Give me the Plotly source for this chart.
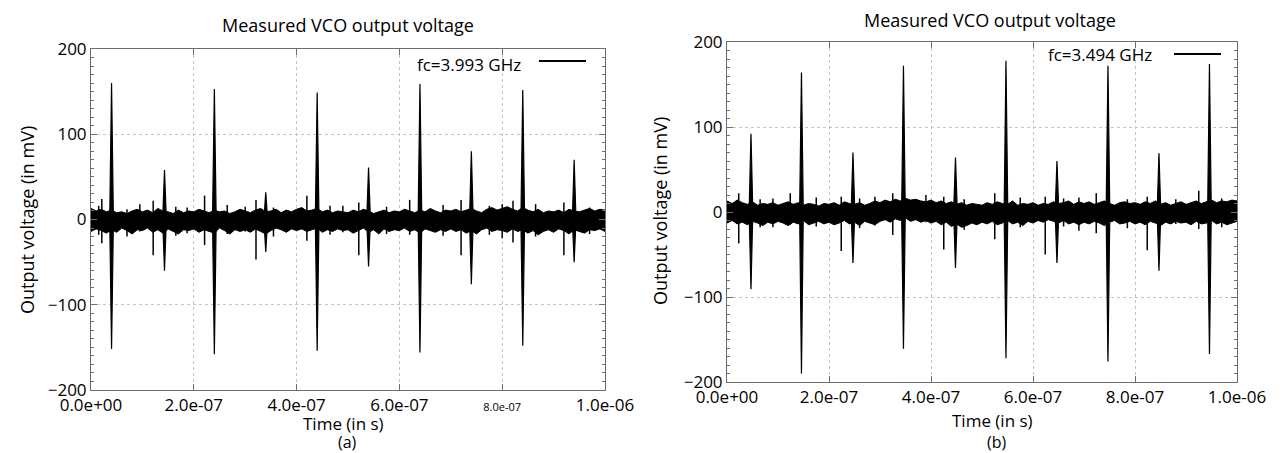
import plotly.graph_objects as go

# ---- data (time in s, voltage in mV) ----
title_txt = "Measured VCO output voltage"
ytitle = "Output voltage (in mV)"
xtitle = "Time (in s)"
labels = ["fc=3.993 GHz", "fc=3.494 GHz"]
subcaps = ["(a)", "(b)"]

xtick_vals = [0, 2e-7, 4e-7, 6e-7, 8e-7, 1e-6]
xtick_text = ["0.0e+00", "2.0e-07", "4.0e-07", "6.0e-07", "8.0e-07", "1.0e-06"]
ytick_vals = [-200, -100, 0, 100, 200]

# noise band, sampled every 1e-8 s (upper / lower edge)
noise_step = 1e-8
a_upper = [13, 10, 12, 9, 11, 8, 9, 7, 10, 12,
           9, 11, 8, 13, 10, 9, 7, 11, 8, 10,
           9, 12, 10, 8, 11, 9, 10, 7, 9, 12,
           10, 8, 11, 13, 9, 10, 12, 8, 11, 9,
           12, 14, 10, 11, 13, 9, 11, 8, 10, 9,
           8, 11, 9, 12, 10, 7, 9, 11, 8, 10,
           9, 12, 10, 8, 11, 9, 13, 10, 8, 11,
           10, 12, 9, 11, 13, 10, 8, 12, 14, 11,
           13, 15, 12, 10, 14, 11, 9, 12, 8, 10,
           9, 11, 8, 12, 10, 9, 11, 13, 10, 12, 11]
a_lower = [-14, -11, -13, -16, -12, -15, -10, -13, -17, -12,
           -13, -10, -15, -12, -16, -11, -14, -17, -12, -13,
           -11, -15, -12, -14, -16, -10, -13, -17, -12, -14,
           -12, -15, -11, -14, -17, -13, -10, -12, -15, -11,
           -13, -11, -14, -12, -10, -15, -12, -14, -11, -13,
           -12, -16, -13, -10, -15, -12, -17, -11, -14, -12,
           -13, -10, -14, -12, -16, -11, -13, -15, -12, -14,
           -11, -14, -12, -16, -13, -17, -12, -10, -14, -12,
           -13, -15, -11, -14, -12, -16, -13, -18, -14, -12,
           -15, -11, -13, -17, -12, -14, -16, -12, -13, -11, -14]
b_upper = [13, 10, 14, 11, 9, 12, 8, 10, 9, 11,
           8, 10, 12, 9, 11, 8, 10, 9, 7, 10,
           9, 11, 8, 12, 10, 9, 11, 8, 10, 13,
           11, 14, 12, 15, 13, 16, 14, 15, 13, 12,
           14, 11, 13, 10, 12, 9, 11, 8, 10, 9,
           8, 11, 9, 12, 10, 9, 13, 8, 10, 9,
           11, 8, 10, 9, 12, 10, 11, 13, 9, 12,
           10, 12, 9, 11, 13, 10, 8, 11, 12, 10,
           11, 9, 12, 10, 13, 9, 11, 8, 10, 12,
           9, 11, 13, 10, 12, 14, 11, 13, 12, 14, 13]
b_lower = [-13, -10, -14, -12, -15, -11, -13, -16, -12, -14,
           -11, -13, -16, -12, -14, -10, -15, -13, -11, -14,
           -12, -15, -13, -10, -14, -12, -16, -11, -13, -15,
           -11, -9, -12, -8, -10, -7, -11, -9, -12, -10,
           -13, -11, -15, -12, -17, -14, -18, -16, -13, -15,
           -12, -14, -11, -15, -13, -10, -14, -12, -16, -11,
           -13, -10, -12, -9, -11, -13, -10, -14, -12, -15,
           -12, -14, -11, -13, -16, -12, -10, -14, -13, -11,
           -14, -12, -15, -11, -13, -16, -12, -14, -11, -13,
           -12, -15, -11, -14, -13, -10, -14, -12, -15, -13, -11]

# main pulses: time, peak, trough
a_pulse_t = [0.40e-7, 1.43e-7, 2.40e-7, 3.40e-7, 4.40e-7, 5.40e-7, 6.40e-7, 7.40e-7, 8.40e-7, 9.40e-7]
a_pulse_hi = [160, 58, 153, 32, 149, 61, 159, 80, 152, 70]
a_pulse_lo = [-152, -60, -158, -38, -154, -55, -156, -76, -148, -50]
b_pulse_t = [0.47e-7, 1.46e-7, 2.47e-7, 3.46e-7, 4.48e-7, 5.47e-7, 6.47e-7, 7.47e-7, 8.47e-7, 9.46e-7]
b_pulse_hi = [92, 164, 70, 172, 64, 178, 60, 172, 69, 174]
b_pulse_lo = [-91, -190, -60, -161, -66, -172, -60, -176, -69, -167]

# small glitches: time, max, min
a_glitch_t = [0.21e-7, 0.95e-7, 1.21e-7, 1.87e-7, 2.21e-7, 3.00e-7, 3.21e-7, 4.20e-7, 5.21e-7,
              6.20e-7, 7.20e-7, 8.21e-7, 9.20e-7, 0.70e-7, 4.90e-7, 8.00e-7,
              0.15e-7, 1.65e-7, 2.65e-7, 3.55e-7, 4.65e-7, 5.75e-7, 6.85e-7, 7.75e-7, 8.65e-7, 9.70e-7]
a_glitch_hi = [24, 18, 22, 14, 28, 15, 23, 28, 20, 23, 23, 22, 20, 12, 16, 18,
               16, 15, 17, 14, 16, 15, 17, 16, 18, 14]
a_glitch_lo = [-28, -14, -42, -16, -30, -14, -47, -25, -42, -18, -42, -27, -42, -20, -15, -22,
               -18, -19, -17, -20, -18, -17, -19, -18, -20, -17]
b_glitch_t = [0.23e-7, 1.24e-7, 2.24e-7, 3.25e-7, 4.25e-7, 5.25e-7, 6.24e-7, 7.24e-7, 8.24e-7,
              9.25e-7, 0.90e-7, 2.90e-7, 3.90e-7, 6.90e-7, 8.80e-7,
              0.65e-7, 1.75e-7, 2.60e-7, 4.65e-7, 5.75e-7, 6.60e-7, 7.85e-7, 9.70e-7]
b_glitch_hi = [22, 22, 18, 22, 18, 22, 18, 22, 18, 25, 16, 18, 20, 17, 15,
               15, 17, 16, 15, 17, 16, 15, 16]
b_glitch_lo = [-37, -15, -46, -27, -44, -32, -50, -25, -45, -20, -18, -16, -12, -22, -14,
               -18, -17, -19, -21, -18, -17, -19, -18]

# ---- layout geometry ----
W, H = 1284, 453
pulse_half = 3.6e-9
frame = "#6e6e6e"


def px2x(p):
    return p / W


def px2y(p):
    return 1 - p / H


def pulse_path(ts, his, los):
    xs, ys = [], []
    for t, hi, lo in zip(ts, his, los):
        xs += [t - pulse_half, t, t + pulse_half, t, t - pulse_half, None]
        ys += [0, hi, 0, lo, 0, None]
    return xs, ys


def glitch_path(ts, his, los):
    xs, ys = [], []
    for t, hi, lo in zip(ts, his, los):
        xs += [t, t, None]
        ys += [hi, lo, None]
    return xs, ys


fig = go.Figure()
panels = [
    ("x", "y", a_upper, a_lower, a_pulse_t, a_pulse_hi, a_pulse_lo, a_glitch_t, a_glitch_hi, a_glitch_lo),
    ("x2", "y2", b_upper, b_lower, b_pulse_t, b_pulse_hi, b_pulse_lo, b_glitch_t, b_glitch_hi, b_glitch_lo),
]
for xa, ya, up, lo, pt, ph, pl, gt, gh, gl in panels:
    tt = [i * noise_step for i in range(len(up))]
    fig.add_trace(go.Scatter(x=tt, y=up, mode="lines", line=dict(color="black", width=1),
                             xaxis=xa, yaxis=ya, showlegend=False, hoverinfo="skip"))
    fig.add_trace(go.Scatter(x=tt, y=lo, mode="lines", line=dict(color="black", width=1),
                             fill="tonexty", fillcolor="black",
                             xaxis=xa, yaxis=ya, showlegend=False, hoverinfo="skip"))
    gx, gy = glitch_path(gt, gh, gl)
    fig.add_trace(go.Scatter(x=gx, y=gy, mode="lines", line=dict(color="black", width=1.5),
                             xaxis=xa, yaxis=ya, showlegend=False, hoverinfo="skip"))
    px_, py_ = pulse_path(pt, ph, pl)
    fig.add_trace(go.Scatter(x=px_, y=py_, mode="lines", line=dict(color="black", width=1.2),
                             fill="toself", fillcolor="black",
                             xaxis=xa, yaxis=ya, showlegend=False, hoverinfo="skip"))


def xaxis_cfg(dom, small8=False):
    txt = list(xtick_text)
    if small8:
        txt[4] = '<span style="font-size:11px">' + txt[4] + '</span>'
    return dict(domain=dom, range=[0, 1e-6], tickvals=xtick_vals, ticktext=txt,
                ticks="inside", ticklen=6, tickcolor=frame, mirror="ticks",
                showline=True, linecolor=frame, linewidth=1, automargin=False,
                showgrid=True, gridcolor="#c4c4c4", griddash="dot", gridwidth=1,
                zeroline=False, tickfont=dict(size=17))


def yaxis_cfg(dom, anchor):
    return dict(domain=dom, range=[-200, 200], tickvals=ytick_vals, anchor=anchor,
                ticks="inside", ticklen=6, tickcolor=frame, mirror="ticks",
                showline=True, linecolor=frame, linewidth=1, automargin=False,
                minor=dict(dtick=10, ticks="inside", ticklen=3, tickcolor=frame, showgrid=False),
                showgrid=True, gridcolor="#c4c4c4", griddash="dot", gridwidth=1,
                zeroline=False, tickfont=dict(size=17))


fig.update_layout(
    width=W, height=H,
    margin=dict(l=0, r=0, t=0, b=0, autoexpand=False),
    paper_bgcolor="white", plot_bgcolor="white",
    font=dict(family="Open Sans", color="black"),
    xaxis=dict(xaxis_cfg([px2x(83), px2x(597)], small8=True), anchor="y"),
    yaxis=yaxis_cfg([px2y(382), px2y(41)], "x"),
    xaxis2=dict(xaxis_cfg([px2x(719), px2x(1229)]), anchor="y2"),
    yaxis2=yaxis_cfg([px2y(374), px2y(34)], "x2"),
)

# titles, captions, legend text (positions in pixels of the 1284x453 page)
texts = [
    (title_txt, 340, 17, 18, "center", 0),
    (title_txt, 982, 12, 18, "center", 0),
    (xtitle, 335, 415, 17, "center", 0),
    (xtitle, 985, 412, 17, "center", 0),
    (subcaps[0], 340, 434, 16, "center", 0),
    (subcaps[1], 989, 434, 16, "center", 0),
    (ytitle, 19, 212, 18, "center", -90),
    (ytitle, 652, 203, 18, "center", -90),
    (labels[0], 515, 57, 17, "right", 0),
    (labels[1], 1146, 47, 17, "right", 0),
]
for txt, x, y, size, anc, ang in texts:
    fig.add_annotation(text=txt, x=px2x(x), y=px2y(y), xref="paper", yref="paper",
                       xanchor=anc, yanchor="middle", showarrow=False, textangle=ang,
                       font=dict(size=size, color="black"))

for x0, x1, y in [(531, 578, 53), (1166, 1213, 46)]:
    fig.add_shape(type="line", xref="paper", yref="paper",
                  x0=px2x(x0), x1=px2x(x1), y0=px2y(y), y1=px2y(y),
                  line=dict(color="black", width=2))

fig.write_html("out.html")
